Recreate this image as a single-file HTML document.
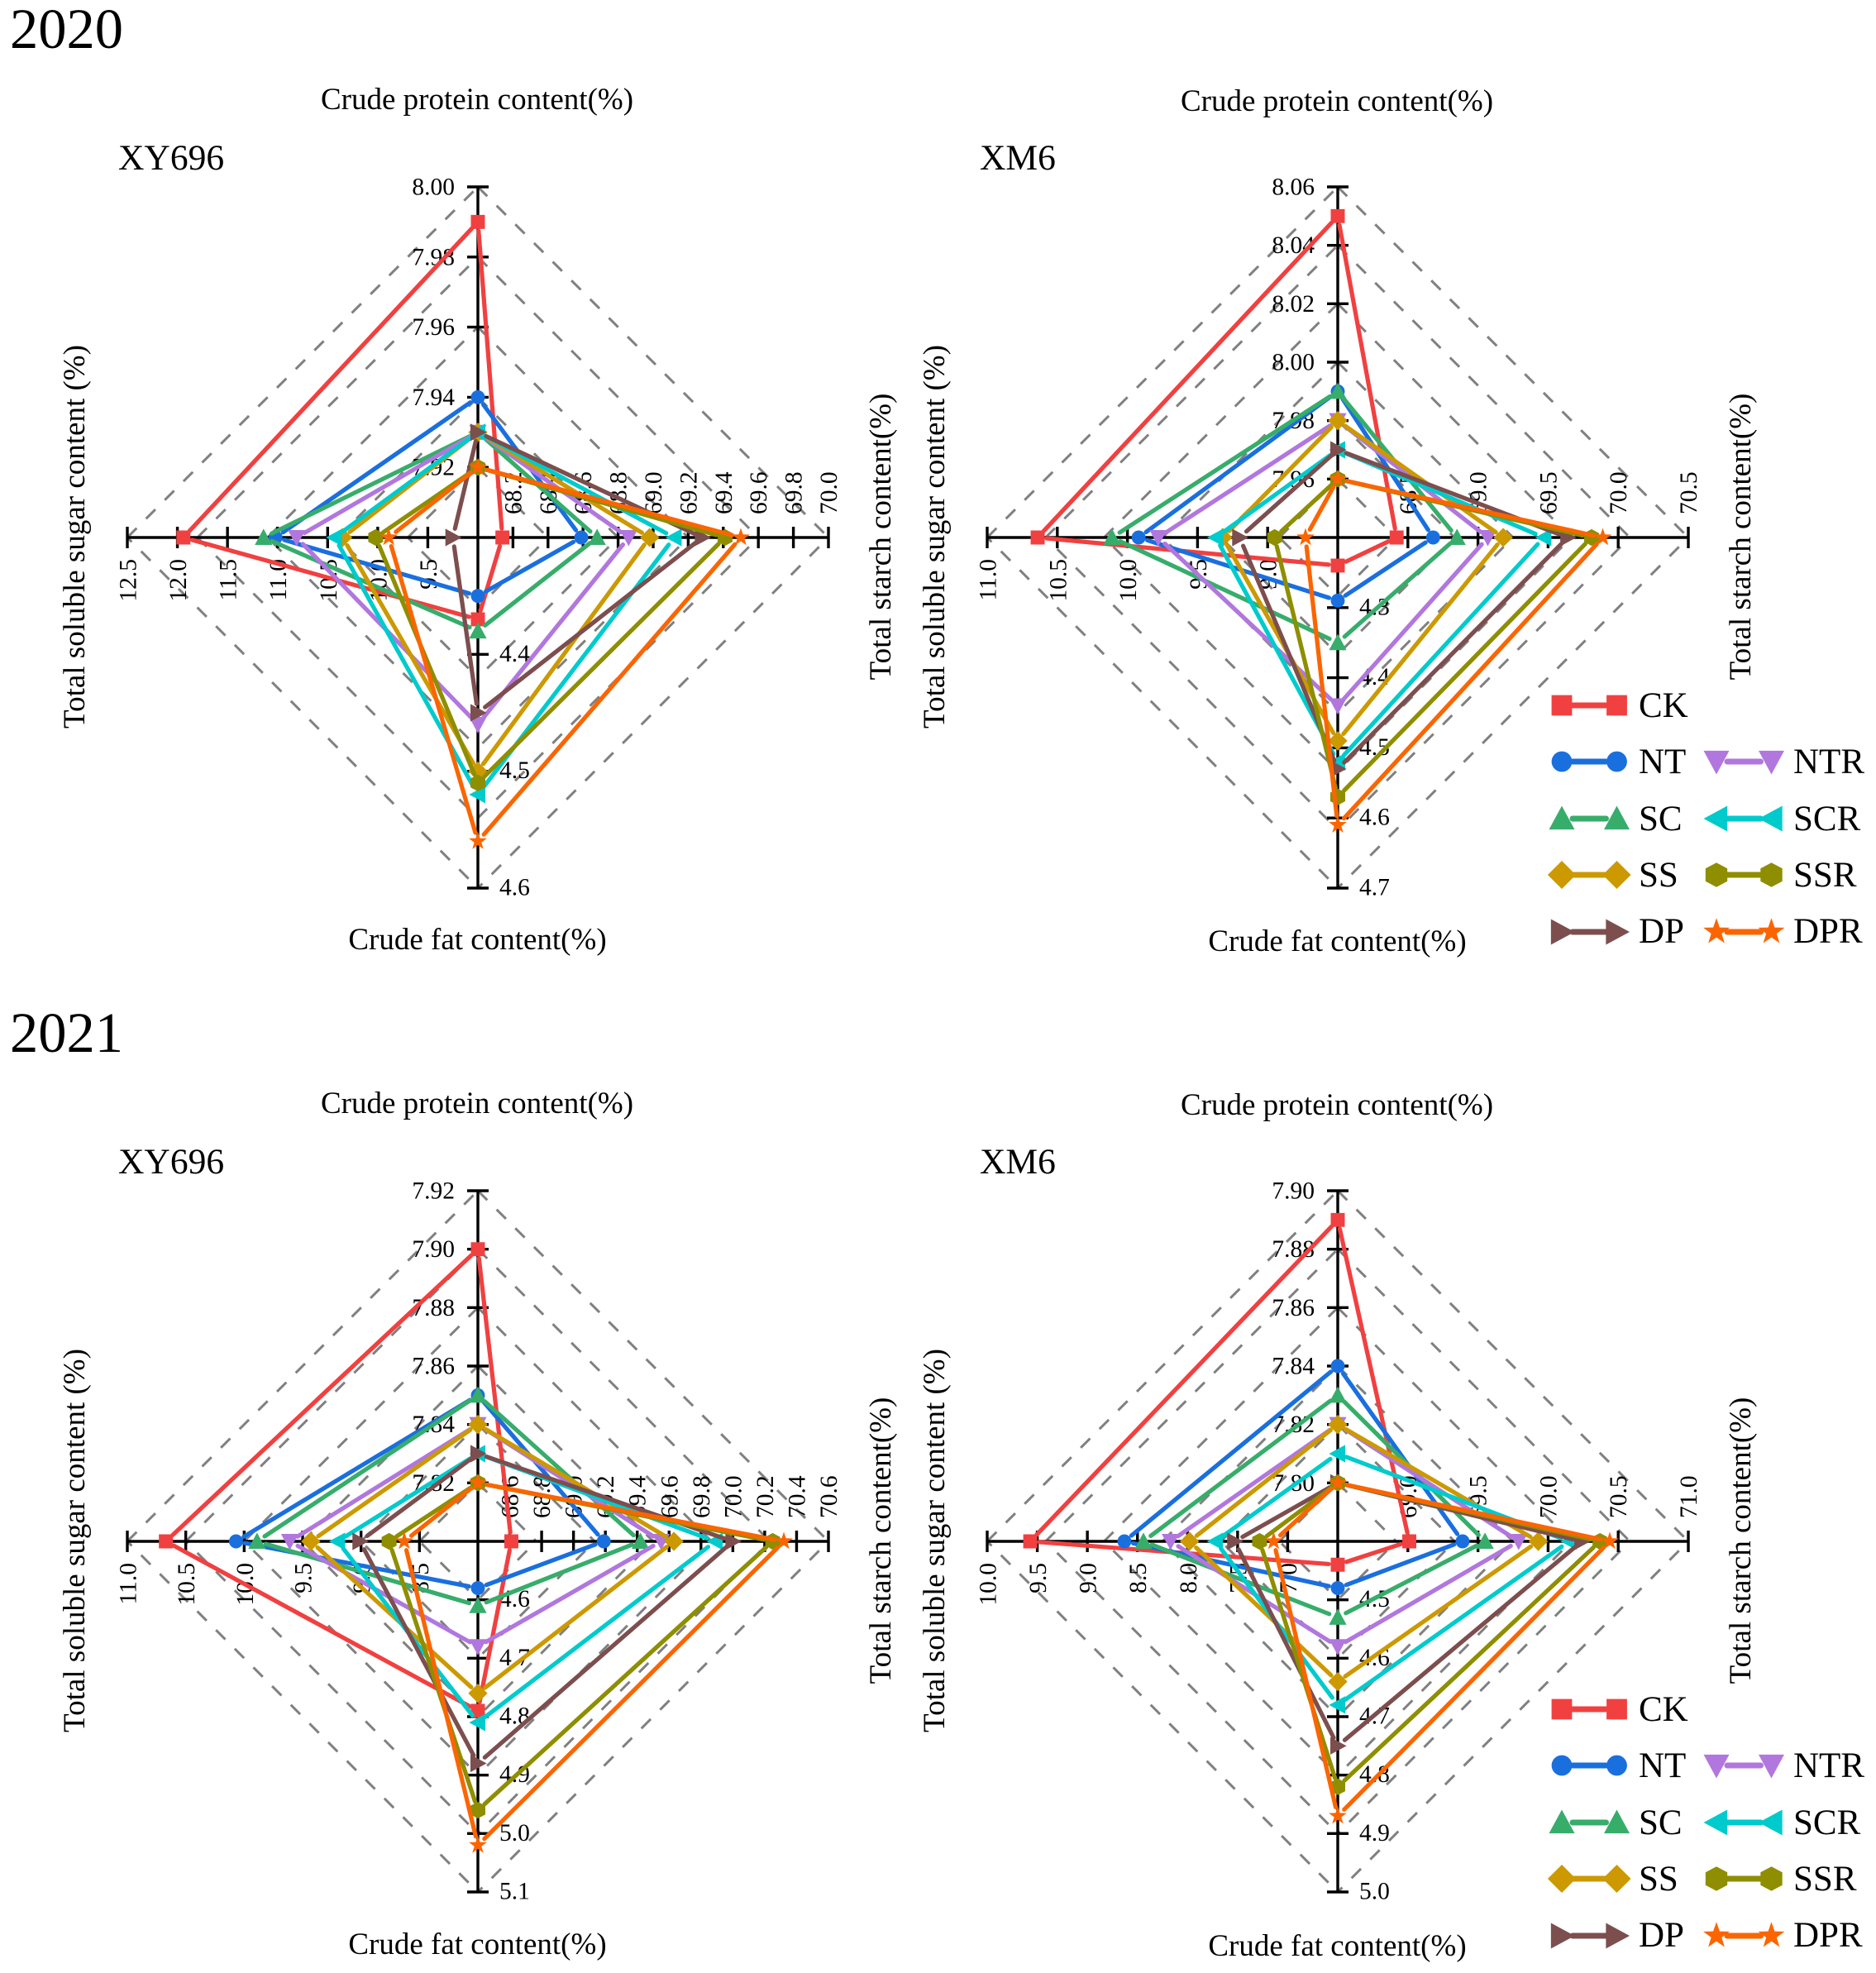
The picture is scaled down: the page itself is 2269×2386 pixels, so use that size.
<!DOCTYPE html>
<html lang="en">
<head>
<meta charset="utf-8">
<title>Radar charts of grain quality, 2020 and 2021</title>
<style>
html,body{margin:0;padding:0;background:#fff;}
svg{display:block;}
text{font-family:"Liberation Serif","Times New Roman",serif;fill:#000;}
.year{font-size:68.5px;}
.variety{font-size:43.5px;}
.title{font-size:37px;}
.legend-text{font-size:43px;}
</style>
</head>
<body>
<svg id="figure" xmlns="http://www.w3.org/2000/svg" width="2269" height="2386" viewBox="0 0 2269 2386">
  <rect x="0" y="0" width="2269" height="2386" fill="#fff"/>
  <g id="plots"></g>
  <g>
    <text class="year" x="12" y="58">2020</text>
    <text class="year" x="12" y="1272">2021</text>

    <text class="variety" x="143" y="205">XY696</text>
    <text class="variety" x="1185" y="205">XM6</text>
    <text class="variety" x="143" y="1419">XY696</text>
    <text class="variety" x="1185" y="1419">XM6</text>

    <text class="title" x="577" y="132" text-anchor="middle">Crude protein content(%)</text>
    <text class="title" x="577.5" y="1148" text-anchor="middle">Crude fat content(%)</text>
    <text class="title" transform="translate(102,649) rotate(-90)" text-anchor="middle">Total soluble sugar content (%)</text>
    <text class="title" transform="translate(1077,649) rotate(-90)" text-anchor="middle">Total starch content(%)</text>

    <text class="title" x="1617" y="134" text-anchor="middle">Crude protein content(%)</text>
    <text class="title" x="1617.5" y="1150" text-anchor="middle">Crude fat content(%)</text>
    <text class="title" transform="translate(1142,649) rotate(-90)" text-anchor="middle">Total soluble sugar content (%)</text>
    <text class="title" transform="translate(2117,649) rotate(-90)" text-anchor="middle">Total starch content(%)</text>

    <text class="title" x="577" y="1346" text-anchor="middle">Crude protein content(%)</text>
    <text class="title" x="577.5" y="2363" text-anchor="middle">Crude fat content(%)</text>
    <text class="title" transform="translate(102,1863) rotate(-90)" text-anchor="middle">Total soluble sugar content (%)</text>
    <text class="title" transform="translate(1077,1863) rotate(-90)" text-anchor="middle">Total starch content(%)</text>

    <text class="title" x="1617" y="1348" text-anchor="middle">Crude protein content(%)</text>
    <text class="title" x="1617.5" y="2365" text-anchor="middle">Crude fat content(%)</text>
    <text class="title" transform="translate(1142,1863) rotate(-90)" text-anchor="middle">Total soluble sugar content (%)</text>
    <text class="title" transform="translate(2117,1863) rotate(-90)" text-anchor="middle">Total starch content(%)</text>
  </g>
  <g id="legend-2020" transform="translate(0,0)">
    <text class="legend-text" x="1982" y="867">CK</text>
    <text class="legend-text" x="1982" y="935">NT</text>
    <text class="legend-text" x="1982" y="1004">SC</text>
    <text class="legend-text" x="1982" y="1072">SS</text>
    <text class="legend-text" x="1982" y="1140">DP</text>
    <text class="legend-text" x="2169" y="935">NTR</text>
    <text class="legend-text" x="2169" y="1004">SCR</text>
    <text class="legend-text" x="2169" y="1072">SSR</text>
    <text class="legend-text" x="2169" y="1140">DPR</text>
  </g>
  <g id="legend-2021" transform="translate(0,1214)">
    <text class="legend-text" x="1982" y="867">CK</text>
    <text class="legend-text" x="1982" y="935">NT</text>
    <text class="legend-text" x="1982" y="1004">SC</text>
    <text class="legend-text" x="1982" y="1072">SS</text>
    <text class="legend-text" x="1982" y="1140">DP</text>
    <text class="legend-text" x="2169" y="935">NTR</text>
    <text class="legend-text" x="2169" y="1004">SCR</text>
    <text class="legend-text" x="2169" y="1072">SSR</text>
    <text class="legend-text" x="2169" y="1140">DPR</text>
  </g>
</svg>
<script>
/* Series, in drawing order */
const seriesNames = ['CK','NT','SC','NTR','SS','SCR','DP','SSR','DPR'];
const seriesColors = ['#F14040','#1A6FDF','#37AD6B','#B177DE','#CC9900','#00CBCC','#7D4E4E','#8E8E00','#FB6501'];
const seriesShapes = ['square','circle','up','down','diamond','left','right','hex','star'];

/* XY696, 2020 */
const xy2020ProteinTicks = ['7.90','7.92','7.94','7.96','7.98','8.00'];
const xy2020StarchTicks = ['68.0','68.2','68.4','68.6','68.8','69.0','69.2','69.4','69.6','69.8','70.0'];
const xy2020FatTicks = ['4.3','4.4','4.5','4.6'];
const xy2020SugarTicks = ['9.0','9.5','10.0','10.5','11.0','11.5','12.0','12.5'];
const xy2020Protein = [7.99,7.94,7.93,7.93,7.93,7.93,7.93,7.92,7.92];
const xy2020Starch = [68.14,68.59,68.68,68.86,68.98,69.12,69.28,69.41,69.50];
const xy2020Fat = [4.37,4.35,4.38,4.46,4.50,4.52,4.45,4.51,4.56];
const xy2020Sugar = [11.94,11.02,11.14,10.81,10.35,10.43,9.25,10.02,9.89];

/* XM6, 2020 */
const xm2020ProteinTicks = ['7.94','7.96','7.98','8.00','8.02','8.04','8.06'];
const xm2020StarchTicks = ['68.0','68.5','69.0','69.5','70.0','70.5'];
const xm2020FatTicks = ['4.2','4.3','4.4','4.5','4.6','4.7'];
const xm2020SugarTicks = ['8.5','9.0','9.5','10.0','10.5','11.0'];
const xm2020Protein = [8.05,7.99,7.99,7.98,7.98,7.97,7.97,7.96,7.96];
const xm2020Starch = [68.42,68.68,68.85,69.07,69.18,69.47,69.64,69.81,69.89];
const xm2020Fat = [4.24,4.29,4.35,4.44,4.49,4.52,4.53,4.57,4.61];
const xm2020Sugar = [10.64,9.92,10.11,9.78,9.32,9.37,9.20,8.95,8.73];

/* XY696, 2021 */
const xy2021ProteinTicks = ['7.80','7.82','7.84','7.86','7.88','7.90','7.92'];
const xy2021StarchTicks = ['68.4','68.6','68.8','69.0','69.2','69.4','69.6','69.8','70.0','70.2','70.4','70.6'];
const xy2021FatTicks = ['4.5','4.6','4.7','4.8','4.9','5.0','5.1'];
const xy2021SugarTicks = ['8.0','8.5','9.0','9.5','10.0','10.5','11.0'];
const xy2021Protein = [7.90,7.85,7.85,7.84,7.84,7.83,7.83,7.82,7.82];
const xy2021Starch = [68.61,69.19,69.42,69.55,69.63,69.89,70.00,70.25,70.32];
const xy2021Fat = [4.79,4.58,4.61,4.68,4.76,4.81,4.88,4.96,5.02];
const xy2021Sugar = [10.67,10.07,9.89,9.61,9.43,9.20,9.01,8.76,8.63];

/* XM6, 2021 */
const xm2021ProteinTicks = ['7.78','7.80','7.82','7.84','7.86','7.88','7.90'];
const xm2021StarchTicks = ['68.5','69.0','69.5','70.0','70.5','71.0'];
const xm2021FatTicks = ['4.4','4.5','4.6','4.7','4.8','4.9','5.0'];
const xm2021SugarTicks = ['6.5','7.0','7.5','8.0','8.5','9.0','9.5','10.0'];
const xm2021Protein = [7.89,7.84,7.83,7.82,7.82,7.81,7.80,7.80,7.80];
const xm2021Starch = [69.01,69.39,69.55,69.79,69.93,70.15,70.24,70.37,70.44];
const xm2021Fat = [4.44,4.48,4.53,4.58,4.64,4.68,4.75,4.82,4.87];
const xm2021Sugar = [9.57,8.63,8.44,8.17,7.98,7.72,7.53,7.28,7.14];

const NS = 'http://www.w3.org/2000/svg';
const RADIUS = 424;
const TICK_HALF = 13;
const LINE_GAP = 11;
const MARK_SCALE = 1.06;

function make(parent, tag, attrs) {
  const el = document.createElementNS(NS, tag);
  for (const k in attrs) el.setAttribute(k, attrs[k]);
  parent.appendChild(el);
  return el;
}

/* Axis function: maps a value to its fraction along an axis whose first tick sits at the centre */
function axisFraction(value, ticks) {
  const lo = parseFloat(ticks[0]);
  const hi = parseFloat(ticks[ticks.length - 1]);
  return (value - lo) / (hi - lo);
}

function shapePath(shape, x, y, s) {
  const pts = [];
  if (shape === 'square') {
    pts.push([-8,-8],[8,-8],[8,8],[-8,8]);
  } else if (shape === 'up') {
    pts.push([0,-10],[10,8.5],[-10,8.5]);
  } else if (shape === 'down') {
    pts.push([0,10],[10,-8.5],[-10,-8.5]);
  } else if (shape === 'left') {
    pts.push([-10,0],[8.5,-10],[8.5,10]);
  } else if (shape === 'right') {
    pts.push([10,0],[-8.5,-10],[-8.5,10]);
  } else if (shape === 'diamond') {
    pts.push([0,-11],[11,0],[0,11],[-11,0]);
  } else if (shape === 'hex') {
    pts.push([0,-9.5],[8.5,-5],[8.5,5],[0,9.5],[-8.5,5],[-8.5,-5]);
  } else if (shape === 'star') {
    for (let i = 0; i < 10; i++) {
      const r = i % 2 === 0 ? 10.8 : 4.3;
      const a = -Math.PI / 2 + i * Math.PI / 5;
      pts.push([r * Math.cos(a), r * Math.sin(a)]);
    }
  }
  return 'M' + pts.map(p => (x + p[0] * s).toFixed(2) + ' ' + (y + p[1] * s).toFixed(2)).join('L') + 'Z';
}

function drawMarker(parent, shape, color, x, y, s) {
  if (shape === 'circle') {
    return make(parent, 'circle', {cx: x, cy: y, r: 8 * s, fill: color});
  }
  return make(parent, 'path', {d: shapePath(shape, x, y, s), fill: color});
}

function drawChart(root, id, cx, cy, protein, starch, fat, sugar, proteinTicks, starchTicks, fatTicks, sugarTicks) {
  const g = make(root, 'g', {});
  
  

  /* dashed rings follow the protein axis ticks */
  const rings = make(g, 'g', {fill: 'none', stroke: '#808080', 'stroke-width': 3, 'stroke-dasharray': '16 16'});
  
  
  const n = proteinTicks.length - 1;
  for (let k = 1; k <= n; k++) {
    const r = RADIUS * k / n;
    const edges = [
      [cx - r, cy, cx, cy - r, 0],
      [cx, cy - r, cx + r, cy, 0],
      [cx + r, cy, cx, cy + r, 16],
      [cx, cy + r, cx - r, cy, 16]
    ];
    edges.forEach(e => {
      const line = make(rings, 'line', {x1: e[0], y1: e[1], x2: e[2], y2: e[3], 'stroke-dashoffset': e[4]});
      
      
    });
  }

  /* axes */
  const axes = make(g, 'g', {stroke: '#000', 'stroke-width': 3.4});
  
  
  const tickLabels = make(g, 'g', {'font-size': 29.5});
  
  

  const axisDefs = [
    ['protein', 0, -1, proteinTicks],
    ['starch', 1, 0, starchTicks],
    ['fat', 0, 1, fatTicks],
    ['sugar', -1, 0, sugarTicks]
  ];
  axisDefs.forEach(def => {
    const [name, dx, dy, ticks] = def;
    const axisLine = make(axes, 'line', {x1: cx, y1: cy, x2: cx + dx * RADIUS, y2: cy + dy * RADIUS});
    
    
    ticks.forEach((label, i) => {
      if (i === 0) return;
      const f = axisFraction(parseFloat(label), ticks) * RADIUS;
      const tx = cx + dx * f;
      const ty = cy + dy * f;
      const tick = make(axes, 'line', {
        x1: tx - dy * TICK_HALF, y1: ty - dx * TICK_HALF,
        x2: tx + dy * TICK_HALF, y2: ty + dx * TICK_HALF
      });
      
      
      let attrs;
      if (name === 'protein') {
        attrs = {x: tx - 28, y: ty + 9.5, 'text-anchor': 'end'};
      } else if (name === 'fat') {
        attrs = {x: tx + 26, y: ty + 8.5, 'text-anchor': 'start'};
      } else if (name === 'starch') {
        attrs = {transform: 'translate(' + (tx + 10) + ',' + (ty - 28) + ') rotate(-90)', 'text-anchor': 'start'};
      } else {
        attrs = {transform: 'translate(' + (tx + 10.5) + ',' + (ty + 26) + ') rotate(-90)', 'text-anchor': 'end'};
      }
      const text = make(tickLabels, 'text', attrs);
      
      
      text.textContent = label;
    });
  });

  /* series */
  seriesNames.forEach((sname, i) => {
    const color = seriesColors[i];
    const sg = make(g, 'g', {});
    
    
    const pts = [
      [cx, cy - axisFraction(protein[i], proteinTicks) * RADIUS],
      [cx + axisFraction(starch[i], starchTicks) * RADIUS, cy],
      [cx, cy + axisFraction(fat[i], fatTicks) * RADIUS],
      [cx - axisFraction(sugar[i], sugarTicks) * RADIUS, cy]
    ];
    pts.forEach((p, j) => {
      const q = pts[(j + 1) % 4];
      const vx = q[0] - p[0];
      const vy = q[1] - p[1];
      const len = Math.hypot(vx, vy);
      if (len <= LINE_GAP * 2) return;
      const ux = vx / len * LINE_GAP;
      const uy = vy / len * LINE_GAP;
      const seg = make(sg, 'line', {
        x1: p[0] + ux, y1: p[1] + uy, x2: q[0] - ux, y2: q[1] - uy,
        stroke: color, 'stroke-width': 5.2, 'stroke-linecap': 'round'
      });
      
      
    });
    pts.forEach(p => {
      const mark = drawMarker(sg, seriesShapes[i], color, p[0], p[1], MARK_SCALE);
      
      
    });
  });
}

function drawLegend(root) {
  const rows = [[0,853],[1,921],[2,990],[4,1058],[6,1127],[3,921],[5,990],[7,1058],[8,1127]];
  rows.forEach((row, idx) => {
    const i = row[0];
    const y = row[1];
    const left = idx < 5;
    const x1 = left ? 1889 : 2076;
    const x2 = left ? 1955.5 : 2142.5;
    const color = seriesColors[i];
    const entry = make(root, 'g', {});
    
    
    const line = make(entry, 'line', {x1: x1 + 13, y1: y, x2: x2 - 13, y2: y, stroke: color, 'stroke-width': 7, 'stroke-linecap': 'round'});
    
    
    const m1 = drawMarker(entry, seriesShapes[i], color, x1, y, 1.55);
    
    
    const m2 = drawMarker(entry, seriesShapes[i], color, x2, y, 1.55);
    
    
  });
}

const plots = document.getElementById('plots');
drawChart(plots, 'xy696-2020', 578, 650, xy2020Protein, xy2020Starch, xy2020Fat, xy2020Sugar, xy2020ProteinTicks, xy2020StarchTicks, xy2020FatTicks, xy2020SugarTicks);
drawChart(plots, 'xm6-2020', 1618, 650, xm2020Protein, xm2020Starch, xm2020Fat, xm2020Sugar, xm2020ProteinTicks, xm2020StarchTicks, xm2020FatTicks, xm2020SugarTicks);
drawChart(plots, 'xy696-2021', 578, 1864, xy2021Protein, xy2021Starch, xy2021Fat, xy2021Sugar, xy2021ProteinTicks, xy2021StarchTicks, xy2021FatTicks, xy2021SugarTicks);
drawChart(plots, 'xm6-2021', 1618, 1864, xm2021Protein, xm2021Starch, xm2021Fat, xm2021Sugar, xm2021ProteinTicks, xm2021StarchTicks, xm2021FatTicks, xm2021SugarTicks);
drawLegend(document.getElementById('legend-2020'));
drawLegend(document.getElementById('legend-2021'));
</script>
</body>
</html>
